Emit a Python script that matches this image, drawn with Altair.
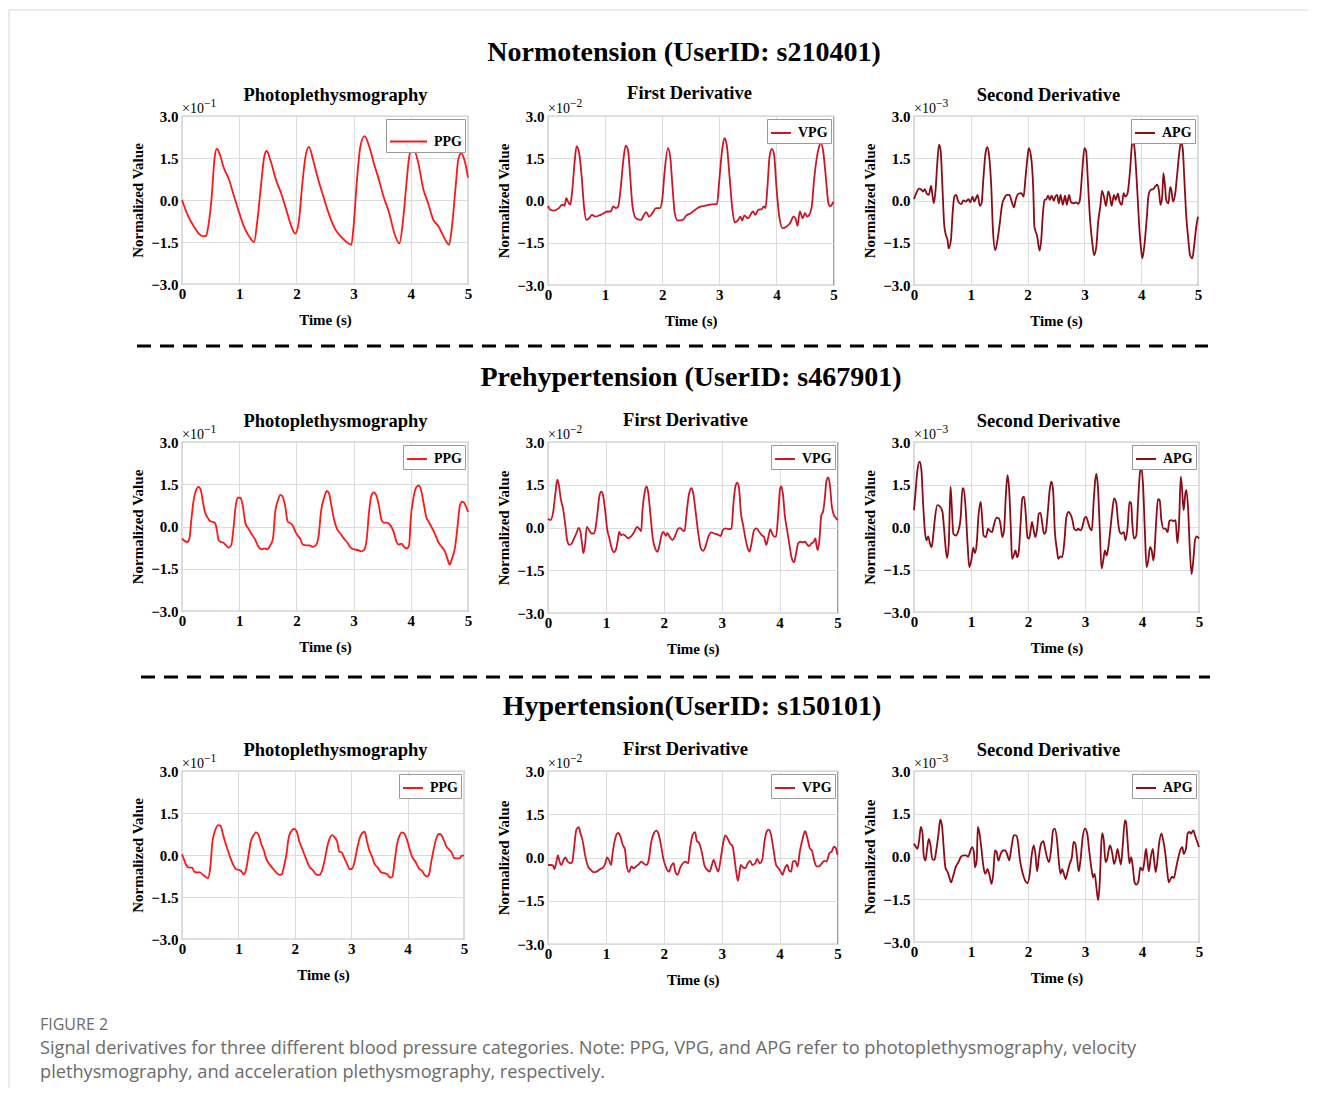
import altair as alt
import pandas as pd

# ---------------- data (in axis units) ----------------
row_titles = ["Normotension (UserID: s210401)",
              "Prehypertension (UserID: s467901)",
              "Hypertension(UserID: s150101)"]
panel_titles = ["Photoplethysmography", "First Derivative", "Second Derivative"]
series_names = ["PPG", "VPG", "APG"]
series_colors = ["#ff1717", "#cc1628", "#8c0c16"]
exponents = ["\u22121", "\u22122", "\u22123"]
y_ticks = [-3.0, -1.5, 0.0, 1.5, 3.0]
x_ticks = [0, 1, 2, 3, 4, 5]
caption_head = "FIGURE 2"
caption_lines = [
    "Signal derivatives for three different blood pressure categories. Note: PPG, VPG, and APG refer to photoplethysmography, velocity",
    "plethysmography, and acceleration plethysmography, respectively.",
]

norm_ppg = [(0, 0.0), (0.106, -0.57), (0.22, -0.99), (0.31, -1.23), (0.36, -1.29), (0.42, -1.29), (0.46, -0.93),
            (0.52, 0.14), (0.567, 1.45), (0.61, 1.83), (0.67, 1.57), (0.73, 1.15), (0.82, 0.74), (0.90, 0.20),
            (0.99, -0.39), (1.08, -0.93), (1.17, -1.29), (1.26, -1.50), (1.32, -0.69), (1.38, 0.50), (1.44, 1.57),
            (1.48, 1.75), (1.55, 1.39), (1.64, 0.74), (1.73, 0.26), (1.82, -0.33), (1.91, -0.93), (1.98, -1.20),
            (2.04, -0.81), (2.10, 0.50), (2.16, 1.57), (2.22, 1.90), (2.29, 1.45), (2.38, 0.74), (2.47, 0.14),
            (2.56, -0.45), (2.68, -1.05), (2.80, -1.35), (2.91, -1.55), (2.96, -1.60), (3.00, -0.93), (3.06, 0.74),
            (3.12, 1.93), (3.19, 2.28), (3.27, 1.93), (3.36, 1.27), (3.44, 0.74), (3.53, 0.08), (3.62, -0.45),
            (3.71, -1.17), (3.80, -1.55), (3.86, -0.81), (3.92, 0.50), (3.98, 1.63), (4.04, 1.85), (4.13, 1.33),
            (4.22, 0.38), (4.30, -0.10), (4.39, -0.69), (4.48, -0.93), (4.57, -1.29), (4.67, -1.60), (4.72, -0.93),
            (4.78, 0.38), (4.83, 1.45), (4.88, 1.67), (4.95, 1.33), (5.0, 0.80)]

norm_vpg = [(0, -0.19), (0.04, -0.33), (0.10, -0.36), (0.19, -0.27), (0.25, -0.15), (0.29, -0.19), (0.32, 0.08),
            (0.35, -0.04), (0.39, -0.15), (0.42, 0.26), (0.47, 1.44), (0.50, 1.92), (0.54, 1.74), (0.59, 0.85),
            (0.63, -0.21), (0.67, -0.69), (0.72, -0.63), (0.77, -0.51), (0.83, -0.57), (0.92, -0.51), (0.98, -0.45),
            (1.04, -0.39), (1.10, -0.39), (1.14, -0.21), (1.19, -0.27), (1.23, -0.21), (1.27, 0.38), (1.32, 1.44),
            (1.36, 1.95), (1.40, 1.80), (1.44, 0.85), (1.48, -0.21), (1.54, -0.63), (1.63, -0.69), (1.68, -0.51),
            (1.72, -0.41), (1.77, -0.57), (1.83, -0.45), (1.89, -0.27), (1.96, -0.27), (2.00, 0.02), (2.04, 0.97),
            (2.10, 1.86), (2.14, 1.56), (2.18, 0.50), (2.22, -0.45), (2.27, -0.71), (2.36, -0.69), (2.42, -0.54),
            (2.50, -0.45), (2.56, -0.36), (2.62, -0.27), (2.68, -0.21), (2.74, -0.19), (2.83, -0.15), (2.92, -0.13),
            (2.96, -0.13), (3.00, 0.73), (3.05, 1.80), (3.09, 2.21), (3.13, 1.98), (3.18, 0.85), (3.23, -0.33),
            (3.27, -0.78), (3.33, -0.69), (3.37, -0.57), (3.40, -0.71), (3.44, -0.53), (3.50, -0.63), (3.59, -0.39),
            (3.63, -0.51), (3.68, -0.33), (3.74, -0.31), (3.78, -0.21), (3.81, -0.27), (3.84, 0.38), (3.88, 1.56),
            (3.92, 1.83), (3.96, 1.62), (4.00, 0.50), (4.05, -0.57), (4.11, -0.98), (4.18, -0.92), (4.24, -0.80),
            (4.30, -0.57), (4.34, -0.66), (4.37, -0.90), (4.41, -0.39), (4.46, -0.63), (4.50, -0.45), (4.54, -0.57),
            (4.59, -0.45), (4.62, -0.21), (4.66, 0.73), (4.74, 1.86), (4.78, 2.04), (4.82, 1.74), (4.87, 0.73),
            (4.91, -0.09), (4.94, -0.21), (4.97, -0.15), (5.0, -0.04)]

norm_apg = [(0, 0.05), (0.04, 0.26), (0.09, 0.42), (0.13, 0.38), (0.16, 0.32), (0.19, 0.40), (0.22, 0.26),
            (0.26, 0.20), (0.30, 0.52), (0.32, 0.26), (0.35, -0.10), (0.38, 0.38), (0.41, 1.33), (0.44, 1.98),
            (0.47, 1.75), (0.50, 0.50), (0.53, -0.81), (0.56, -1.22), (0.59, -1.40), (0.61, -1.70), (0.65, -1.40),
            (0.68, -0.45), (0.71, 0.14), (0.74, 0.20), (0.78, -0.04), (0.83, -0.13), (0.87, 0.0), (0.91, -0.04),
            (0.96, 0.05), (0.99, -0.07), (1.03, 0.14), (1.06, -0.04), (1.09, 0.08), (1.12, 0.20), (1.16, -0.19),
            (1.19, -0.10), (1.22, 0.74), (1.26, 1.69), (1.29, 1.89), (1.32, 1.63), (1.36, 0.50), (1.39, -1.05),
            (1.43, -1.76), (1.46, -1.52), (1.51, -0.81), (1.55, -0.15), (1.59, 0.08), (1.64, 0.20), (1.68, 0.20),
            (1.72, -0.04), (1.76, -0.24), (1.79, 0.02), (1.84, 0.24), (1.89, 0.26), (1.93, 0.14), (1.96, 0.74),
            (2.00, 1.57), (2.02, 1.86), (2.06, 1.57), (2.10, 0.38), (2.12, -0.93), (2.17, -1.28), (2.21, -1.78),
            (2.24, -1.40), (2.27, -0.45), (2.30, 0.02), (2.33, 0.05), (2.36, 0.17), (2.39, 0.02), (2.42, 0.17),
            (2.46, 0.0), (2.49, 0.14), (2.52, 0.20), (2.55, -0.10), (2.58, 0.20), (2.62, -0.15), (2.66, 0.17),
            (2.69, -0.15), (2.73, 0.20), (2.76, -0.04), (2.80, -0.10), (2.85, -0.07), (2.89, -0.12), (2.92, 0.02),
            (2.96, 0.97), (3.00, 1.86), (3.03, 1.75), (3.06, 0.74), (3.10, -0.69), (3.14, -1.52), (3.17, -1.94),
            (3.21, -1.64), (3.24, -0.81), (3.28, -0.21), (3.31, 0.34), (3.35, 0.08), (3.38, -0.19), (3.42, 0.32),
            (3.45, 0.14), (3.48, -0.19), (3.52, 0.20), (3.55, 0.02), (3.59, 0.24), (3.62, -0.04), (3.66, -0.15),
            (3.69, 0.26), (3.72, 0.14), (3.76, 0.26), (3.80, 0.97), (3.84, 2.04), (3.86, 2.16), (3.89, 1.69),
            (3.93, 0.38), (3.97, -1.05), (4.00, -1.76), (4.02, -2.05), (4.06, -1.52), (4.10, -0.57), (4.13, 0.20),
            (4.17, 0.38), (4.21, 0.40), (4.25, 0.50), (4.28, 0.56), (4.31, 0.38), (4.34, -0.15), (4.37, 0.14),
            (4.39, 0.97), (4.42, 0.50), (4.44, 0.02), (4.48, -0.10), (4.51, 0.48), (4.53, 0.38), (4.56, -0.04),
            (4.60, 0.26), (4.63, 0.86), (4.67, 1.69), (4.70, 2.07), (4.73, 1.86), (4.76, 0.74), (4.79, -0.45),
            (4.83, -1.40), (4.86, -1.94), (4.90, -2.05), (4.93, -1.64), (4.97, -0.93), (5.0, -0.57)]

pre_ppg = [(0, -0.43), (0.05, -0.52), (0.09, -0.55), (0.13, -0.43), (0.16, 0.17), (0.20, 0.88), (0.24, 1.26),
           (0.29, 1.41), (0.33, 1.29), (0.36, 0.94), (0.40, 0.52), (0.45, 0.31), (0.49, 0.19), (0.53, 0.17),
           (0.58, 0.11), (0.61, -0.13), (0.64, -0.49), (0.68, -0.55), (0.72, -0.57), (0.77, -0.67), (0.81, -0.75),
           (0.86, -0.67), (0.90, -0.07), (0.94, 0.76), (0.98, 1.02), (1.02, 1.02), (1.06, 0.76), (1.11, 0.11),
           (1.16, -0.07), (1.21, -0.25), (1.27, -0.43), (1.33, -0.69), (1.39, -0.81), (1.45, -0.78), (1.49, -0.81),
           (1.53, -0.72), (1.59, -0.43), (1.63, 0.52), (1.68, 0.94), (1.72, 1.12), (1.76, 1.06), (1.80, 0.76),
           (1.85, 0.17), (1.90, 0.11), (1.94, 0.02), (1.98, -0.17), (2.02, -0.31), (2.07, -0.45), (2.11, -0.64),
           (2.17, -0.67), (2.23, -0.67), (2.28, -0.72), (2.34, -0.67), (2.39, -0.31), (2.43, 0.52), (2.49, 1.06),
           (2.53, 1.26), (2.57, 1.18), (2.61, 0.76), (2.66, 0.23), (2.72, -0.13), (2.77, -0.25), (2.83, -0.43),
           (2.89, -0.57), (2.95, -0.76), (3.01, -0.81), (3.08, -0.84), (3.13, -0.88), (3.18, -0.84), (3.23, -0.43),
           (3.27, 0.52), (3.31, 1.09), (3.35, 1.21), (3.39, 1.14), (3.44, 0.76), (3.49, 0.23), (3.53, 0.14),
           (3.58, 0.14), (3.64, 0.05), (3.70, -0.19), (3.75, -0.55), (3.79, -0.64), (3.84, -0.61), (3.88, -0.72),
           (3.93, -0.78), (3.97, -0.67), (4.00, 0.29), (4.05, 1.06), (4.10, 1.41), (4.14, 1.45), (4.18, 1.29),
           (4.22, 0.88), (4.27, 0.34), (4.31, 0.17), (4.36, -0.01), (4.42, -0.25), (4.48, -0.55), (4.54, -0.72),
           (4.60, -0.90), (4.64, -1.14), (4.68, -1.35), (4.72, -1.14), (4.77, -0.78), (4.81, -0.13), (4.86, 0.76),
           (4.90, 0.88), (4.94, 0.82), (5.0, 0.52)]

pre_vpg = [(0, 0.31), (0.04, 0.26), (0.09, 0.55), (0.13, 1.24), (0.16, 1.68), (0.19, 1.47), (0.22, 1.01),
           (0.26, 0.66), (0.30, 0.08), (0.33, -0.44), (0.37, -0.61), (0.41, -0.56), (0.45, -0.38), (0.49, -0.21),
           (0.53, -0.01), (0.56, -0.15), (0.59, -0.61), (0.61, -0.90), (0.64, -0.61), (0.67, 0.02), (0.71, -0.09),
           (0.75, -0.21), (0.79, -0.21), (0.82, -0.03), (0.85, 0.43), (0.89, 1.13), (0.92, 1.26), (0.95, 1.13),
           (0.99, 0.55), (1.02, -0.03), (1.06, -0.38), (1.10, -0.73), (1.14, -0.87), (1.18, -0.73), (1.21, -0.38),
           (1.23, -0.15), (1.26, -0.27), (1.30, -0.24), (1.35, -0.32), (1.39, -0.38), (1.43, -0.32), (1.49, -0.15),
           (1.54, 0.02), (1.58, -0.06), (1.61, -0.13), (1.63, 0.55), (1.67, 1.24), (1.70, 1.44), (1.73, 1.24),
           (1.77, 0.43), (1.81, -0.38), (1.85, -0.73), (1.89, -0.85), (1.92, -0.67), (1.96, -0.27), (1.99, -0.15),
           (2.04, -0.29), (2.06, -0.19), (2.10, -0.32), (2.15, -0.44), (2.19, -0.32), (2.24, -0.06), (2.28, -0.01),
           (2.32, -0.09), (2.36, -0.13), (2.39, 0.43), (2.44, 1.22), (2.48, 1.38), (2.51, 1.18), (2.55, 0.55),
           (2.60, -0.27), (2.64, -0.73), (2.68, -0.82), (2.72, -0.67), (2.77, -0.32), (2.82, -0.17), (2.87, -0.21),
           (2.92, -0.24), (2.98, -0.30), (3.02, -0.09), (3.07, -0.03), (3.12, -0.06), (3.17, -0.03), (3.20, 0.78),
           (3.24, 1.47), (3.27, 1.57), (3.30, 1.36), (3.33, 0.55), (3.37, 0.08), (3.41, -0.38), (3.45, -0.73),
           (3.48, -0.85), (3.51, -0.61), (3.56, -0.09), (3.60, -0.03), (3.64, -0.13), (3.69, -0.27), (3.73, -0.32),
           (3.77, -0.61), (3.80, -0.38), (3.84, -0.06), (3.87, -0.21), (3.91, -0.32), (3.94, -0.32), (3.97, 0.31),
           (4.01, 1.38), (4.03, 1.44), (4.06, 1.13), (4.09, 0.43), (4.13, -0.09), (4.17, -0.61), (4.21, -1.08),
           (4.25, -1.22), (4.28, -0.96), (4.32, -0.56), (4.36, -0.50), (4.40, -0.52), (4.44, -0.50), (4.48, -0.61),
           (4.51, -0.65), (4.55, -0.56), (4.59, -0.50), (4.62, -0.38), (4.64, -0.67), (4.66, -0.79), (4.69, -0.38),
           (4.72, 0.43), (4.75, 0.55), (4.78, 1.01), (4.81, 1.65), (4.84, 1.76), (4.87, 1.47), (4.90, 0.78),
           (4.94, 0.43), (4.97, 0.34), (5.0, 0.26)]

pre_apg = [(0, 0.59), (0.03, 1.30), (0.06, 2.01), (0.10, 2.31), (0.13, 2.01), (0.16, 0.83), (0.19, -0.12),
           (0.22, -0.47), (0.25, -0.33), (0.28, -0.59), (0.31, -0.71), (0.34, -0.24), (0.37, 0.36), (0.41, 0.77),
           (0.46, 0.71), (0.50, 0.53), (0.53, -0.12), (0.56, -0.83), (0.58, -1.09), (0.61, -0.59), (0.64, 1.42),
           (0.66, 0.83), (0.69, -0.24), (0.73, -0.30), (0.78, -0.12), (0.82, 0.36), (0.85, 1.36), (0.87, 1.36),
           (0.90, 0.83), (0.94, -0.59), (0.97, -1.42), (1.01, -1.12), (1.04, -0.73), (1.07, -0.92), (1.10, -0.59),
           (1.13, 0.36), (1.17, 0.89), (1.19, 0.47), (1.22, -0.30), (1.26, -0.36), (1.30, -0.06), (1.33, -0.14),
           (1.37, -0.18), (1.40, 0.06), (1.45, 0.33), (1.49, 0.30), (1.52, 0.06), (1.55, -0.36), (1.58, -0.12),
           (1.61, 1.07), (1.64, 1.83), (1.67, 1.30), (1.70, -0.12), (1.72, -1.12), (1.75, -1.01), (1.78, -0.83),
           (1.81, -1.07), (1.84, -0.83), (1.87, 0.12), (1.90, 1.01), (1.93, 1.07), (1.96, 0.47), (1.99, -0.36),
           (2.02, -0.41), (2.05, -0.06), (2.07, 0.18), (2.10, -0.12), (2.13, -0.36), (2.16, -0.06), (2.19, 0.47),
           (2.22, 0.50), (2.25, 0.12), (2.28, -0.24), (2.31, -0.18), (2.35, 0.59), (2.38, 1.30), (2.41, 1.60),
           (2.44, 1.30), (2.47, -0.12), (2.51, -0.83), (2.53, -1.12), (2.57, -1.04), (2.60, -1.07), (2.64, -0.47),
           (2.67, 0.30), (2.71, 0.53), (2.74, 0.47), (2.78, 0.24), (2.81, -0.06), (2.85, -0.12), (2.88, -0.06),
           (2.92, -0.12), (2.95, -0.02), (2.99, 0.30), (3.02, 0.36), (3.06, 0.12), (3.09, -0.06), (3.12, -0.12),
           (3.15, 0.83), (3.18, 1.66), (3.20, 1.87), (3.23, 1.30), (3.26, -0.12), (3.29, -1.46), (3.32, -1.18),
           (3.35, -0.83), (3.38, -1.01), (3.41, -0.71), (3.44, -0.18), (3.48, 0.59), (3.51, 1.01), (3.55, 0.83),
           (3.58, 0.18), (3.61, -0.18), (3.64, -0.24), (3.68, -0.18), (3.71, -0.47), (3.75, 0.06), (3.78, 0.89),
           (3.81, 0.83), (3.83, 0.12), (3.86, -0.41), (3.90, -0.30), (3.93, 0.83), (3.97, 2.01), (3.99, 2.07),
           (4.02, 1.42), (4.05, -0.12), (4.08, -1.42), (4.11, -1.18), (4.14, -0.71), (4.17, -0.83), (4.20, -1.18),
           (4.22, -0.83), (4.25, 0.24), (4.28, 0.98), (4.31, 0.95), (4.34, 0.24), (4.38, -0.06), (4.41, -0.06),
           (4.45, -0.18), (4.48, 0.21), (4.52, 0.24), (4.55, 0.21), (4.59, 0.24), (4.62, -0.57), (4.65, 0.12),
           (4.68, 1.78), (4.70, 1.42), (4.73, 0.59), (4.76, 1.18), (4.78, 1.30), (4.81, 0.59), (4.84, -0.83),
           (4.87, -1.66), (4.90, -1.18), (4.93, -0.47), (4.96, -0.33), (5.0, -0.41)]

hyp_ppg = [(0, 0.02), (0.04, -0.18), (0.08, -0.38), (0.13, -0.45), (0.18, -0.45), (0.22, -0.60), (0.27, -0.62),
           (0.32, -0.62), (0.37, -0.71), (0.41, -0.77), (0.46, -0.83), (0.50, -0.48), (0.54, 0.48), (0.59, 0.89),
           (0.64, 1.07), (0.68, 1.05), (0.73, 0.71), (0.79, 0.30), (0.85, -0.06), (0.91, -0.36), (0.96, -0.51),
           (1.02, -0.54), (1.06, -0.60), (1.09, -0.69), (1.14, -0.48), (1.18, 0.0), (1.22, 0.48), (1.27, 0.71),
           (1.31, 0.81), (1.36, 0.71), (1.40, 0.42), (1.45, 0.18), (1.49, -0.12), (1.55, -0.33), (1.61, -0.48),
           (1.67, -0.62), (1.73, -0.71), (1.77, -0.69), (1.80, -0.48), (1.85, 0.0), (1.89, 0.60), (1.94, 0.86),
           (1.99, 0.93), (2.04, 0.81), (2.08, 0.48), (2.14, 0.18), (2.20, -0.14), (2.26, -0.42), (2.32, -0.54),
           (2.38, -0.69), (2.44, -0.71), (2.48, -0.57), (2.53, -0.18), (2.57, 0.24), (2.62, 0.60), (2.66, 0.71),
           (2.70, 0.65), (2.75, 0.48), (2.79, 0.12), (2.83, 0.10), (2.88, -0.12), (2.93, -0.33), (2.97, -0.50),
           (3.01, -0.50), (3.06, -0.24), (3.10, 0.18), (3.15, 0.60), (3.19, 0.77), (3.24, 0.83), (3.28, 0.48),
           (3.33, 0.12), (3.37, -0.06), (3.41, -0.30), (3.47, -0.45), (3.53, -0.62), (3.59, -0.65), (3.65, -0.71),
           (3.69, -0.81), (3.73, -0.77), (3.77, -0.24), (3.81, 0.36), (3.86, 0.71), (3.90, 0.81), (3.95, 0.74),
           (3.99, 0.54), (4.04, 0.18), (4.08, -0.06), (4.14, -0.24), (4.20, -0.48), (4.26, -0.57), (4.30, -0.71),
           (4.35, -0.77), (4.38, -0.69), (4.42, -0.24), (4.46, 0.18), (4.51, 0.60), (4.56, 0.75), (4.60, 0.71),
           (4.64, 0.54), (4.69, 0.30), (4.74, 0.18), (4.79, 0.06), (4.82, -0.10), (4.87, -0.12), (4.92, -0.12),
           (4.96, -0.02), (5.0, -0.02)]

hyp_vpg = [(0, -0.26), (0.05, -0.26), (0.09, -0.28), (0.11, -0.40), (0.14, -0.20), (0.17, 0.07), (0.20, -0.14),
           (0.23, -0.26), (0.27, -0.08), (0.30, 0.0), (0.34, -0.14), (0.39, -0.20), (0.42, -0.14), (0.45, 0.33),
           (0.49, 0.97), (0.53, 1.05), (0.56, 0.85), (0.60, 0.56), (0.64, 0.09), (0.69, -0.31), (0.74, -0.43),
           (0.79, -0.51), (0.84, -0.49), (0.90, -0.40), (0.95, -0.35), (0.99, -0.20), (1.02, 0.0), (1.06, -0.12),
           (1.09, -0.26), (1.12, 0.21), (1.16, 0.65), (1.21, 0.85), (1.25, 0.73), (1.29, 0.44), (1.33, 0.27),
           (1.36, -0.31), (1.40, -0.51), (1.44, -0.31), (1.48, -0.37), (1.52, -0.31), (1.57, -0.23), (1.61, -0.14),
           (1.65, -0.20), (1.70, -0.26), (1.74, -0.08), (1.78, 0.50), (1.83, 0.85), (1.87, 0.93), (1.91, 0.81),
           (1.95, 0.44), (1.99, -0.02), (2.04, -0.35), (2.09, -0.49), (2.13, -0.28), (2.17, -0.20), (2.20, -0.51),
           (2.24, -0.60), (2.28, -0.37), (2.33, -0.20), (2.37, -0.14), (2.42, -0.20), (2.45, 0.27), (2.50, 0.79),
           (2.54, 0.88), (2.57, 0.58), (2.61, 0.50), (2.66, 0.15), (2.70, -0.26), (2.75, -0.43), (2.79, -0.49),
           (2.83, -0.26), (2.86, -0.08), (2.90, -0.31), (2.94, -0.49), (2.98, -0.08), (3.02, 0.44), (3.06, 0.77),
           (3.10, 0.67), (3.14, 0.50), (3.19, 0.38), (3.22, -0.02), (3.25, -0.49), (3.28, -0.81), (3.30, -0.60),
           (3.33, -0.26), (3.37, -0.35), (3.41, -0.37), (3.45, -0.20), (3.49, -0.12), (3.53, -0.26), (3.58, -0.20),
           (3.61, -0.05), (3.66, -0.20), (3.70, -0.08), (3.74, 0.56), (3.78, 0.91), (3.81, 0.97), (3.85, 0.81),
           (3.89, 0.33), (3.94, -0.26), (3.98, -0.37), (4.02, -0.49), (4.05, -0.60), (4.09, -0.37), (4.13, -0.26),
           (4.17, -0.47), (4.20, -0.49), (4.23, -0.14), (4.27, -0.12), (4.31, -0.31), (4.35, 0.21), (4.40, 0.67),
           (4.44, 0.91), (4.48, 0.67), (4.52, 0.33), (4.56, 0.23), (4.60, -0.12), (4.64, -0.31), (4.68, -0.31),
           (4.73, -0.20), (4.77, -0.12), (4.81, -0.14), (4.86, 0.15), (4.90, 0.21), (4.94, 0.38), (4.97, 0.33),
           (5.0, 0.09)]

hyp_apg = [(0, 0.45), (0.03, 0.35), (0.06, 0.27), (0.09, 0.56), (0.12, 1.04), (0.15, 0.80), (0.17, 0.04),
           (0.20, -0.14), (0.23, 0.27), (0.26, 0.62), (0.29, 0.39), (0.32, -0.08), (0.36, -0.12), (0.39, 0.21),
           (0.43, 0.80), (0.46, 1.29), (0.49, 1.09), (0.52, 0.33), (0.55, -0.38), (0.59, -0.55), (0.62, -0.73),
           (0.65, -0.91), (0.69, -0.67), (0.73, -0.38), (0.78, -0.20), (0.82, -0.02), (0.87, 0.04), (0.91, 0.04),
           (0.95, 0.0), (0.99, 0.21), (1.02, 0.33), (1.05, 0.15), (1.07, -0.38), (1.10, -0.14), (1.12, 1.04),
           (1.15, 0.80), (1.18, 0.33), (1.22, -0.38), (1.25, -0.61), (1.29, -0.44), (1.32, -0.61), (1.36, -0.96),
           (1.39, -0.61), (1.42, 0.21), (1.45, 0.15), (1.48, -0.14), (1.52, 0.09), (1.56, 0.21), (1.60, 0.21),
           (1.64, 0.04), (1.67, -0.14), (1.71, 0.33), (1.75, 0.74), (1.79, 0.74), (1.82, 0.56), (1.86, -0.14),
           (1.91, -0.61), (1.95, -0.85), (1.99, -0.94), (2.03, -0.61), (2.06, -0.02), (2.10, 0.39), (2.13, 0.09),
           (2.16, -0.52), (2.19, -0.02), (2.23, 0.45), (2.27, 0.54), (2.30, 0.27), (2.34, -0.08), (2.37, -0.20),
           (2.41, 0.33), (2.44, 0.92), (2.47, 0.98), (2.51, 0.56), (2.54, -0.14), (2.57, -0.61), (2.60, -0.44),
           (2.63, -0.61), (2.66, -0.79), (2.70, -0.49), (2.73, -0.26), (2.77, -0.02), (2.80, 0.51), (2.83, 0.45),
           (2.86, -0.02), (2.89, -0.52), (2.92, -0.14), (2.96, 0.68), (3.00, 0.98), (3.04, 0.80), (3.07, 0.27),
           (3.11, -0.38), (3.14, -0.73), (3.17, -0.61), (3.20, -1.08), (3.23, -1.53), (3.26, -0.85), (3.28, 0.21),
           (3.30, 0.82), (3.33, 0.56), (3.36, -0.20), (3.39, -0.08), (3.42, 0.27), (3.44, 0.39), (3.48, 0.09),
           (3.51, -0.26), (3.54, -0.08), (3.57, 0.27), (3.60, -0.02), (3.63, -0.28), (3.66, 0.33), (3.70, 1.27),
           (3.72, 1.21), (3.75, 0.45), (3.78, -0.24), (3.81, -0.02), (3.84, -0.38), (3.87, -0.91), (3.90, -0.99),
           (3.94, -0.85), (3.97, -0.38), (4.01, -0.49), (4.04, -0.20), (4.07, 0.27), (4.09, -0.02), (4.12, -0.52),
           (4.15, -0.08), (4.19, 0.27), (4.21, -0.08), (4.24, -0.55), (4.27, -0.14), (4.30, 0.45), (4.34, 0.80),
           (4.37, 0.59), (4.41, 0.09), (4.44, -0.49), (4.47, -0.91), (4.50, -0.79), (4.53, -0.71), (4.56, -0.75),
           (4.60, -0.38), (4.64, -0.02), (4.68, 0.27), (4.71, 0.33), (4.73, 0.09), (4.77, 0.27), (4.80, 0.80),
           (4.83, 0.86), (4.86, 0.80), (4.90, 0.92), (4.93, 0.74), (4.96, 0.56), (5.0, 0.33)]

signals = [[norm_ppg, norm_vpg, norm_apg],
           [pre_ppg, pre_vpg, pre_apg],
           [hyp_ppg, hyp_vpg, hyp_apg]]

# ---------------- layout / style ----------------
SERIF = "Liberation Serif"
SANS = "Open Sans"
NOVIEW = alt.ViewBackground(stroke="transparent")
PANELVIEW = alt.ViewBackground(stroke="#8a8a8a", strokeWidth=1.2)
one = pd.DataFrame({"k": [0]})

# column widths of the grid: panel, gap, panel, gap, panel
W0, G1, W2, G3, W4 = 286, 79.5, 289.5, 76, 285
# panel sizes [row][col] = (width, height) and title centre relative to plot
sizes = [[(286, 168), (285.5, 169), (284, 169)],
         [(286, 169), (289.5, 171), (285, 170)],
         [(282, 168), (289.5, 173), (285, 171)]]
title_pos = [[(153.5, -21), (141.5, -23), (134.5, -21)],
             [(153.5, -21), (137.5, -22), (134.5, -21)],
             [(153.5, -21), (137.5, -22), (134.5, -21)]]
legend_len = [[37, 20, 20], [20, 20, 20], [20, 20, 20]]


def text_mark(txt, x, y, size, weight="bold", font=SERIF, align="center", baseline="middle", color="black"):
    return alt.Chart(one).mark_text(
        text=txt, font=font, fontSize=size, fontWeight=weight, align=align,
        baseline=baseline, color=color
    ).encode(x=alt.value(x), y=alt.value(y))


def blank(w, h):
    return alt.Chart(one).mark_text(text="", baseline="top", fontSize=2).encode(
        x=alt.value(0), y=alt.value(0)
    ).properties(width=w, height=h, view=NOVIEW)


def panel(r, c):
    name = series_names[c]
    df = pd.DataFrame(signals[r][c], columns=["t", "v"])
    df["series"] = name
    w, h = sizes[r][c]
    L = legend_len[r][c]
    line = alt.Chart(df).mark_line(strokeWidth=1.8, interpolate="monotone").encode(
        x=alt.X("t:Q", scale=alt.Scale(domain=[0, 5], nice=False, zero=False),
                axis=alt.Axis(values=x_ticks, format="d", title="Time (s)")),
        y=alt.Y("v:Q", scale=alt.Scale(domain=[-3, 3], nice=False),
                axis=alt.Axis(values=y_ticks, format=".1f", title="Normalized Value")),
        color=alt.Color("series:N", scale=alt.Scale(domain=[name], range=[series_colors[c]]),
                        legend=alt.Legend(title=None, orient="top-right", offset=3, padding=3,
                                          strokeColor="#9a9a9a", fillColor="white",
                                          symbolType="stroke", symbolSize=L * L, symbolStrokeWidth=2,
                                          labelFont=SERIF, labelFontWeight="bold", labelFontSize=14,
                                          labelColor="black", labelOffset=6)),
    )
    tx, ty = title_pos[r][c]
    ttl = text_mark(panel_titles[c], tx, ty, 18.5)
    mul = text_mark("\u00d710", 0, -3, 14, weight="normal", align="left", baseline="alphabetic")
    sup = text_mark(exponents[c], 22, -9.5, 11.5, weight="normal", align="left", baseline="alphabetic")
    return alt.layer(line, ttl, mul, sup).properties(width=w, height=h, view=PANELVIEW)


# header with frame lines and first group title
frame_top = alt.Chart(one).mark_rule(color="#d8d8d8", strokeWidth=1).encode(
    x=alt.value(-173), x2=alt.value(1126), y=alt.value(0))
frame_left = alt.Chart(one).mark_rule(color="#d8d8d8", strokeWidth=1).encode(
    x=alt.value(-173), y=alt.value(0), y2=alt.value(1078))
header = alt.layer(frame_top, frame_left, text_mark(row_titles[0], 502, 43, 28)).properties(
    width=W0, height=106, view=NOVIEW)


def separator(y_line, x1, x2, title, tx, ty, h):
    dash = alt.Chart(one).mark_rule(color="black", strokeWidth=3, strokeDash=[14, 9]).encode(
        x=alt.value(x1), x2=alt.value(x2), y=alt.value(y_line))
    return alt.layer(dash, text_mark(title, tx, ty, 28)).properties(width=W0, height=h, view=NOVIEW)


sep1 = separator(61, -45, 1026, row_titles[1], 509, 93, 157)
sep2 = separator(64, -41, 1028, row_titles[2], 510, 94, 158)

footer = alt.layer(
    text_mark(caption_head, -142, 81, 16, weight="normal", font=SANS, align="left", color="#6b6b6b"),
    text_mark(caption_lines[0], -142, 105, 18.2, weight="normal", font=SANS, align="left", color="#6b6b6b"),
    text_mark(caption_lines[1], -142, 129, 18.2, weight="normal", font=SANS, align="left", color="#6b6b6b"),
).properties(width=W0, height=140, view=NOVIEW)


def filler_row(first):
    return [first, blank(G1, 1), blank(1, 1), blank(G3, 1), blank(1, 1)]


def panel_row(r):
    return [panel(r, 0), blank(G1, 1), panel(r, 1), blank(G3, 1), panel(r, 2)]


items = (filler_row(header) + panel_row(0) + filler_row(sep1) + panel_row(1)
         + filler_row(sep2) + panel_row(2) + filler_row(footer))

chart = alt.concat(*items, columns=5, spacing=0, bounds="flush", align="each").resolve_scale(
    color="independent"
).properties(
    padding={"left": 0, "top": 1, "right": 0, "bottom": 0}
).configure(
    font=SERIF, background="white"
).configure_view(
    stroke="transparent"
).configure_axis(
    labelFont=SERIF, labelFontWeight="bold", labelFontSize=15, labelColor="black",
    titleFont=SERIF, titleFontWeight="bold", titleFontSize=15, titleColor="black",
    grid=True, gridColor="#dcdcdc", gridWidth=1, domain=False, ticks=False
).configure_axisX(
    labelPadding=2, titlePadding=11, labelFlush=False
).configure_axisY(
    labelPadding=4, titlePadding=5
)

chart.save("out.html", embed_options={"renderer": "svg", "actions": False})
